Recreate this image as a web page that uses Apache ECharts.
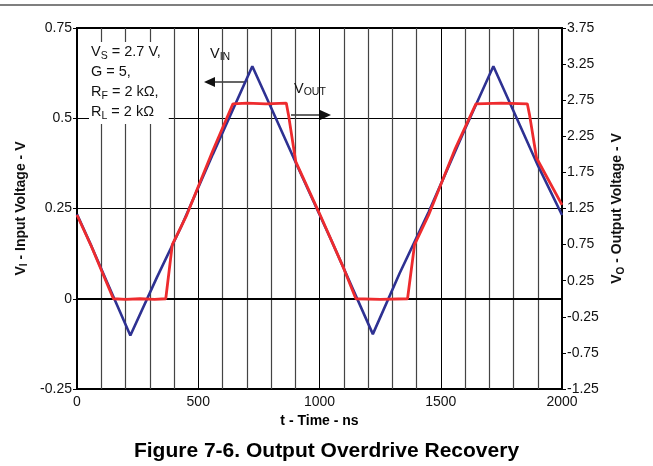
<!doctype html>
<html lang="en" style="height: 100%">
<head>
  <meta charset="utf-8" />
  <script type="text/javascript" src="https://fastly.jsdelivr.net/npm/echarts@6.0.0/dist/echarts.min.js"></script>
</head>
<body style="height: 100%; margin: 0; background: #fff">
  <div id="main" style="width: 653px; height: 466px"></div>
  <script type="text/javascript">
    // V_IN (left axis, V) - triangle wave vertices
    var vinData = [
      [0, 0.234], [60, 0.145], [120, 0.052], [220, -0.102], [330, 0.06],
      [430, 0.2], [560, 0.4], [723, 0.644], [800, 0.53], [900, 0.38],
      [1050, 0.16], [1220, -0.098], [1330, 0.07], [1450, 0.24],
      [1600, 0.47], [1717, 0.644], [1800, 0.52], [1900, 0.37], [2000, 0.232]
    ];
    // V_OUT (right axis, V) - clipped output
    var voutData = [
      [0, 1.16], [60, 0.72], [150, 0.0], [200, -0.01], [260, 0.0],
      [320, -0.01], [366, 0.0], [393, 0.75], [450, 1.14], [560, 2.05],
      [643, 2.7], [700, 2.71], [780, 2.7], [863, 2.71], [872, 2.55],
      [902, 1.9], [1000, 1.18], [1100, 0.42], [1150, 0.0], [1250, -0.01],
      [1363, 0.0], [1392, 0.75], [1450, 1.16], [1560, 2.08], [1645, 2.7],
      [1750, 2.71], [1857, 2.7], [1866, 2.55], [1895, 1.95], [2000, 1.3]
    ];
    var xTicks = [0, 500, 1000, 1500, 2000];

    var chartDom = document.getElementById('main');
    var myChart = echarts.init(chartDom);
    var font = "'Liberation Sans', Arial, sans-serif";

    function arrow(x1, x2, y, dir) {
      // dir = -1 : head on the left, 1 : head on the right
      var tip = dir < 0 ? x1 : x2;
      var base = tip - dir * 11;
      return [
        {
          type: 'line',
          shape: { x1: dir < 0 ? base : x1, y1: y, x2: dir < 0 ? x2 : base, y2: y },
          style: { stroke: '#111', lineWidth: 1.3 }
        },
        {
          type: 'polygon',
          shape: { points: [[tip, y], [base, y - 5], [base, y + 5]] },
          style: { fill: '#111' }
        }
      ];
    }

    var nameRich = {
      b: { fontFamily: font, fontSize: 14, fontWeight: 'bold', color: '#111', lineHeight: 17 },
      s: { fontFamily: font, fontSize: 10, fontWeight: 'bold', color: '#111', lineHeight: 11, verticalAlign: 'bottom' }
    };

    var option = {
      animation: false,
      title: {
        text: 'Figure 7-6. Output Overdrive Recovery',
        left: 'center',
        top: 436,
        textStyle: { fontFamily: font, fontSize: 21, fontWeight: 'bold', color: '#000' }
      },
      grid: {
        left: 77, right: 91, top: 28, bottom: 77,
        show: true, borderColor: '#000', borderWidth: 2
      },
      xAxis: {
        type: 'value',
        min: 0, max: 2000, interval: 500,
        name: 't - Time - ns',
        nameLocation: 'middle',
        nameGap: 22,
        nameTextStyle: { fontFamily: font, fontSize: 14, fontWeight: 'bold', color: '#000' },
        axisLine: { lineStyle: { color: '#000', width: 2 } },
        axisTick: { show: false },
        axisLabel: {
          fontFamily: font, fontSize: 14, color: '#111', margin: 6,
          formatter: function (v) { return xTicks.indexOf(v) >= 0 ? String(v) : ''; }
        },
        splitLine: { show: true, lineStyle: { color: '#000', width: 1 } },
        minorTick: { show: false, splitNumber: 5 },
        minorSplitLine: { show: true, lineStyle: { color: '#444', width: 1.2 } }
      },
      yAxis: [
        {
          type: 'value',
          min: -0.25, max: 0.75, interval: 0.25,
          name: '{b|V}{s|I}{b| - Input Voltage - V}',
          nameLocation: 'middle',
          nameGap: 38,
          nameRotate: 90,
          nameTextStyle: { rich: nameRich },
          axisLine: { show: true, lineStyle: { color: '#000', width: 2 } },
          axisTick: { show: true, length: 4, lineStyle: { color: '#000' } },
          axisLabel: { fontFamily: font, fontSize: 14, color: '#111', margin: 5 },
          splitLine: { show: true, lineStyle: { color: '#000', width: 1 } }
        },
        {
          type: 'value',
          position: 'right',
          min: -1.25, max: 3.75, interval: 0.5,
          name: '{b|V}{s|O}{b| - Output Voltage - V}',
          nameLocation: 'middle',
          nameGap: 47,
          nameRotate: 90,
          nameTextStyle: { rich: nameRich },
          axisLine: { show: true, lineStyle: { color: '#000', width: 2 } },
          axisTick: { show: true, length: 4, lineStyle: { color: '#000' } },
          axisLabel: { fontFamily: font, fontSize: 14, color: '#111', margin: 5 },
          splitLine: { show: false }
        }
      ],
      series: [
        {
          name: 'VIN',
          type: 'line',
          yAxisIndex: 0,
          data: vinData,
          showSymbol: false,
          lineStyle: { color: '#2e3192', width: 2.6 },
          z: 3
        },
        {
          name: 'VOUT',
          type: 'line',
          yAxisIndex: 1,
          data: voutData,
          showSymbol: false,
          lineStyle: { color: '#ee2b2e', width: 2.8 },
          z: 4
        }
      ],
      graphic: [
        {
          type: 'line',
          shape: { x1: 0, y1: 5, x2: 653, y2: 5 },
          style: { stroke: '#555', lineWidth: 1.5 }
        },
        {
          type: 'text',
          left: 89, top: 42,
          z: 10,
          style: {
            text: '{n|V}{s|S}{n| = 2.7 V,}\n{n|G = 5,}\n{n|R}{s|F}{n| = 2 kΩ,}\n{n|R}{s|L}{n| = 2 kΩ}',
            backgroundColor: '#fff',
            padding: [0, 8, 2, 2],
            rich: {
              n: { fontFamily: font, fontSize: 14.5, fill: '#111', lineHeight: 20 },
              s: { fontFamily: font, fontSize: 10.5, fill: '#111', lineHeight: 12, verticalAlign: 'bottom' }
            }
          }
        },
        {
          type: 'text',
          left: 210, top: 46,
          z: 10,
          style: {
            text: '{n|V}{s|IN}',
            rich: {
              n: { fontFamily: font, fontSize: 14.5, fill: '#111', lineHeight: 18 },
              s: { fontFamily: font, fontSize: 10.5, fill: '#111', lineHeight: 11, verticalAlign: 'bottom' }
            }
          }
        },
        {
          type: 'text',
          left: 294, top: 81,
          z: 10,
          style: {
            text: '{n|V}{s|OUT}',
            rich: {
              n: { fontFamily: font, fontSize: 14.5, fill: '#111', lineHeight: 18 },
              s: { fontFamily: font, fontSize: 10.5, fill: '#111', lineHeight: 11, verticalAlign: 'bottom' }
            }
          }
        }
      ].concat(arrow(204, 246, 82, -1)).concat(arrow(291, 331, 115, 1))
    };

    myChart.setOption(option);
  </script>
</body>
</html>
